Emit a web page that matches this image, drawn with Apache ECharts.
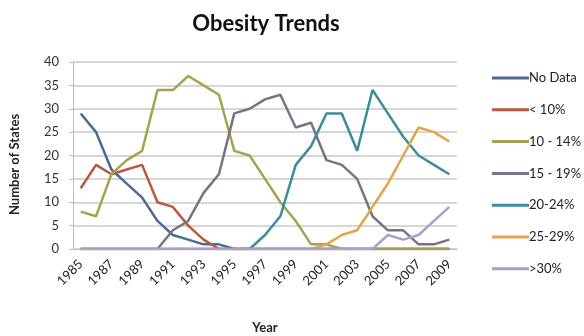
<!DOCTYPE html>
<html>
<head>
<meta charset="utf-8">
<script src="https://cdn.jsdelivr.net/npm/echarts@6/dist/echarts.min.js"></script>
<style>
  html, body { margin: 0; padding: 0; background: #fff; }
  #chart { width: 584px; height: 336px; }
</style>
</head>
<body>
<div id="chart"></div>
<script>
// 年份
const years = ['1985', '1986', '1987', '1988', '1989', '1990', '1991', '1992', '1993', '1994', '1995', '1996', '1997',
  '1998', '1999', '2000', '2001', '2002', '2003', '2004', '2005', '2006', '2007', '2008', '2009']

const noData =   [29, 25, 17, 14, 11, 6, 3, 2, 1, 1, 0, 0, 0, 0, 0, 0, 0, 0, 0, 0, 0, 0, 0, 0, 0]
const under10 =  [13, 18, 16, 17, 18, 10, 9, 5, 2, 0, 0, 0, 0, 0, 0, 0, 0, 0, 0, 0, 0, 0, 0, 0, 0]
const p10to14 =  [8, 7, 16, 19, 21, 34, 34, 37, 35, 33, 21, 20, 15, 10, 6, 1, 1, 0, 0, 0, 0, 0, 0, 0, 0]
const p15to19 =  [0, 0, 0, 0, 0, 0, 4, 6, 12, 16, 29, 30, 32, 33, 26, 27, 19, 18, 15, 7, 4, 4, 1, 1, 2]
const p20to24 =  [0, 0, 0, 0, 0, 0, 0, 0, 0, 0, 0, 0, 3, 7, 18, 22, 29, 29, 21, 34, 29, 24, 20, 18, 16]
const p25to29 =  [0, 0, 0, 0, 0, 0, 0, 0, 0, 0, 0, 0, 0, 0, 0, 0, 1, 3, 4, 9, 14, 20, 26, 25, 23]
const over30 =   [0, 0, 0, 0, 0, 0, 0, 0, 0, 0, 0, 0, 0, 0, 0, 0, 0, 0, 0, 0, 3, 2, 3, 6, 9]

const seriesNames = ['No Data', '< 10%', '10 - 14%', '15 - 19%', '20-24%', '25-29%', '>30%']
const seriesValues = [noData, under10, p10to14, p15to19, p20to24, p25to29, over30]
const colors = ['#4b6b95', '#b9573f', '#a3a350', '#7b7084', '#3b8c9d', '#e6a24a', '#a8a1c6']

const yTicks = [0, 5, 10, 15, 20, 25, 30, 35, 40]

const fontFamily = 'Lato, "Open Sans", sans-serif'

const chart = echarts.init(document.getElementById('chart'))

const option = {
  animation: false,
  color: colors,
  textStyle: {fontFamily},
  title: {
    text: 'Obesity Trends',
    left: 261,
    textAlign: 'center',
    top: 8,
    textStyle: {fontSize: 22, fontWeight: 'bold', color: '#111', fontFamily}
  },
  legend: {
    orient: 'vertical',
    left: 487,
    top: 66,
    icon: 'rect',
    itemWidth: 37,
    itemHeight: 3,
    itemGap: 17.8,
    textStyle: {fontSize: 13, color: '#222', lineHeight: 14, padding: [0, 0, 0, -5]},
    data: seriesNames
  },
  grid: {left: 73, right: 127, top: 62, bottom: 87, containLabel: false, outerBoundsMode: 'none'},
  xAxis: {
    type: 'category',
    data: years,
    boundaryGap: true,
    name: 'Year',
    nameLocation: 'middle',
    nameGap: 72,
    nameTextStyle: {fontSize: 13, fontWeight: 'bold', color: '#222'},
    axisLine: {lineStyle: {color: '#bfbfbf', width: 1}},
    axisTick: {show: false},
    axisLabel: {interval: 1, rotate: 45, fontSize: 13, color: '#222', margin: 13}
  },
  yAxis: {
    type: 'value',
    min: yTicks[0],
    max: yTicks[yTicks.length - 1],
    interval: 5,
    name: 'Number of States',
    nameLocation: 'middle',
    nameGap: 52,
    nameTextStyle: {fontSize: 13, fontWeight: 'bold', color: '#222', padding: [0, 18, 0, 0]},
    axisLine: {show: true, lineStyle: {color: '#bfbfbf', width: 1}},
    axisTick: {show: true, length: 4, lineStyle: {color: '#bfbfbf'}},
    axisLabel: {fontSize: 13, color: '#333', margin: 14},
    splitLine: {lineStyle: {color: '#c8c8c8', width: 1.5}}
  },
  series: seriesNames.map((name, i) => ({
    name,
    type: 'line',
    data: seriesValues[i],
    symbol: 'none',
    lineStyle: {width: 2.5, color: colors[i]},
    itemStyle: {color: colors[i]},
    z: 2 + i
  }))
}

chart.setOption(option)
</script>
</body>
</html>
